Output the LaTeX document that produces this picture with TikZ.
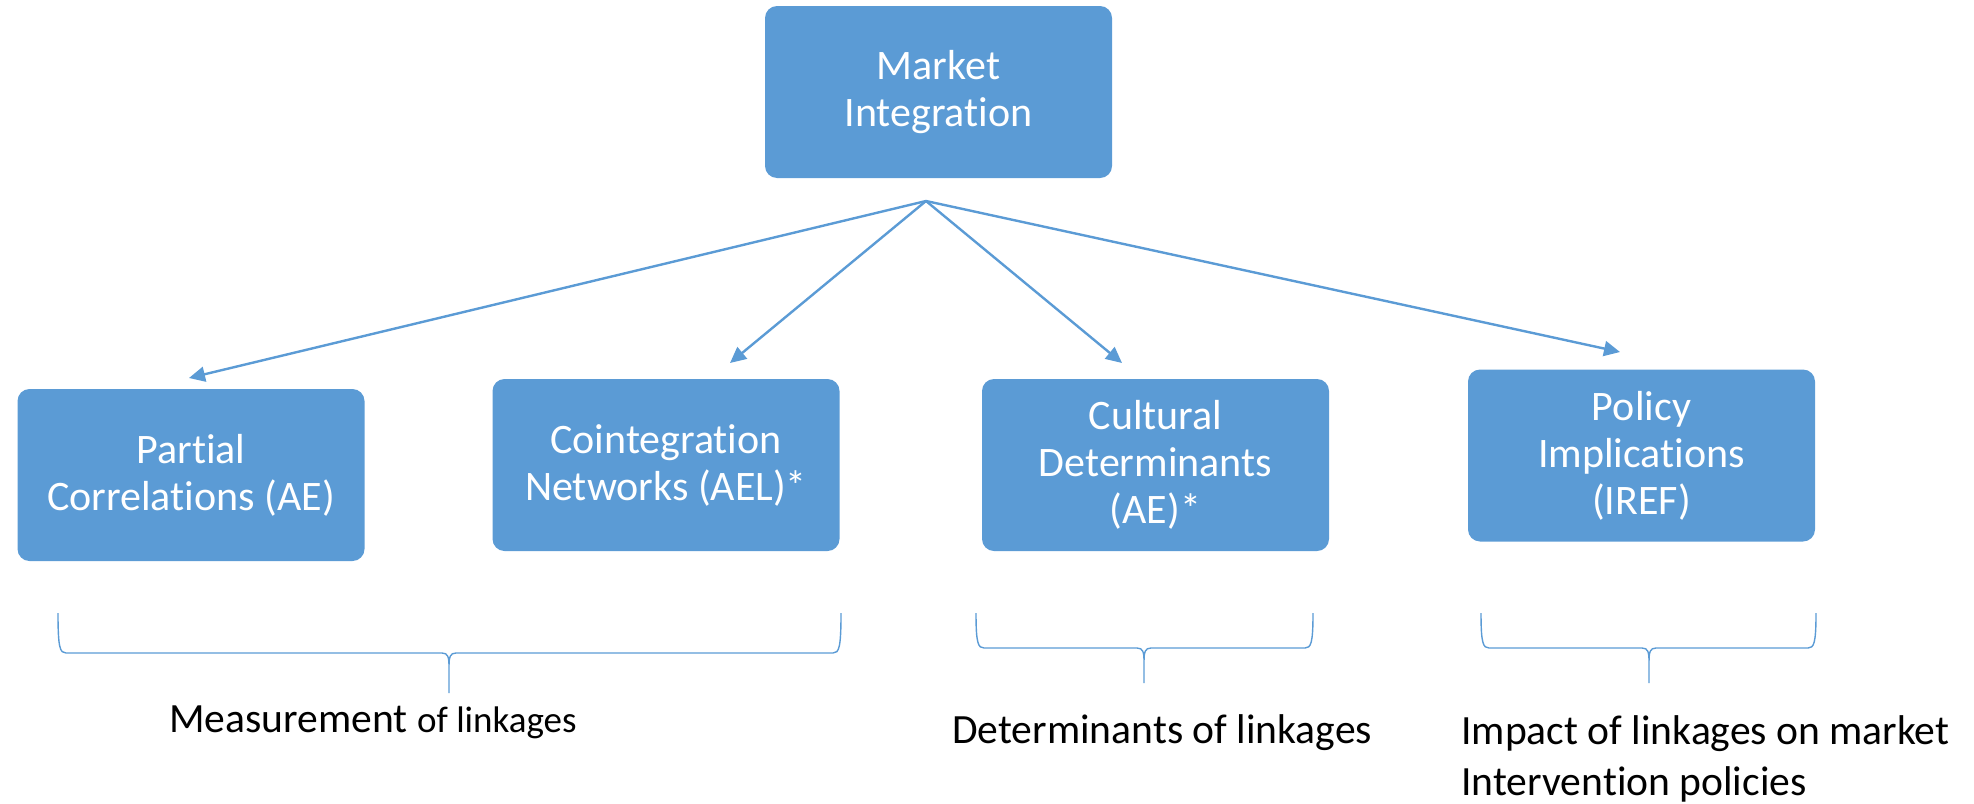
\documentclass[tikz,border=0pt]{standalone}
\usepackage{fontspec}
\setmainfont{Carlito}[Ligatures=NoCommon]
\usetikzlibrary{arrows.meta}
\definecolor{officeblue}{HTML}{5B9BD5}

\begin{document}
\begin{tikzpicture}[x=0.5pt, y=-0.5pt,
  topic/.style={fill=officeblue, rounded corners=6pt, text=white, align=center,
    minimum width=173.5pt, minimum height=86pt, inner sep=0pt,
    font=\fontsize{21}{23.5}\selectfont},
  link/.style={officeblue, line width=1.2pt, -{Triangle[length=8pt,width=7.5pt]}},
  bracket/.style={officeblue, line width=0.7pt},
  caption/.style={inner sep=0pt, font=\fontsize{20.8}{25.5}\selectfont}]
  % Canvas of the picture
  \useasboundingbox (0,0) rectangle (1974,803);

  % Main box and the four topics
  \node[topic] (market) at (938.5,92) {Market\\Integration};
  \node[topic] (partial) at (191,475) {Partial\\Correlations (AE)};
  \node[topic] (coint) at (666,465) {Cointegration\\Networks (AEL)*};
  \node[topic] (cultural) at (1155.5,465) {Cultural\\Determinants\\(AE)*};
  \node[topic] (policy) at (1641.5,455.5) {Policy\\Implications\\(IREF)};

  % Arrows fanning out from below the main box
  \coordinate (hub) at (926,201);
  \coordinate (partialtip) at (189,378);
  \coordinate (cointtip) at (730,363);
  \coordinate (culturaltip) at (1122,363);
  \coordinate (policytip) at (1620,352);
  \foreach \t in {partialtip,cointtip,culturaltip,policytip}
    \draw[link] (hub) -- (\t);

  % Braces under the topics
  \foreach \l/\c/\r/\t/\m/\b in {58/449/841/613/653/693,
      976/1144/1313/613/648/683, 1481/1649/1816/613/648/683}
    \draw[bracket] (\l,\t) .. controls (\l,\m-5) and (\l+2,\m) .. (\l+8,\m)
      -- (\c-7,\m) .. controls (\c-1,\m) and (\c,\m+4) .. (\c,\m+14) -- (\c,\b)
      (\c,\m+14) .. controls (\c,\m+4) and (\c+1,\m) .. (\c+7,\m)
      -- (\r-8,\m) .. controls (\r-2,\m) and (\r,\m-5) .. (\r,\t);

  % Captions of the braces
  \node[caption, anchor=base west] (measure) at (169,732)
    {Measurement {\fontsize{18.5}{22}\selectfont of linkages}};
  \node[caption, anchor=base west] (determ) at (952,743)
    {Determinants of linkages};
  \node[caption, anchor=north west, align=left] (impact) at (1461,715)
    {Impact of linkages on market\\Intervention policies};
\end{tikzpicture}
\end{document}
